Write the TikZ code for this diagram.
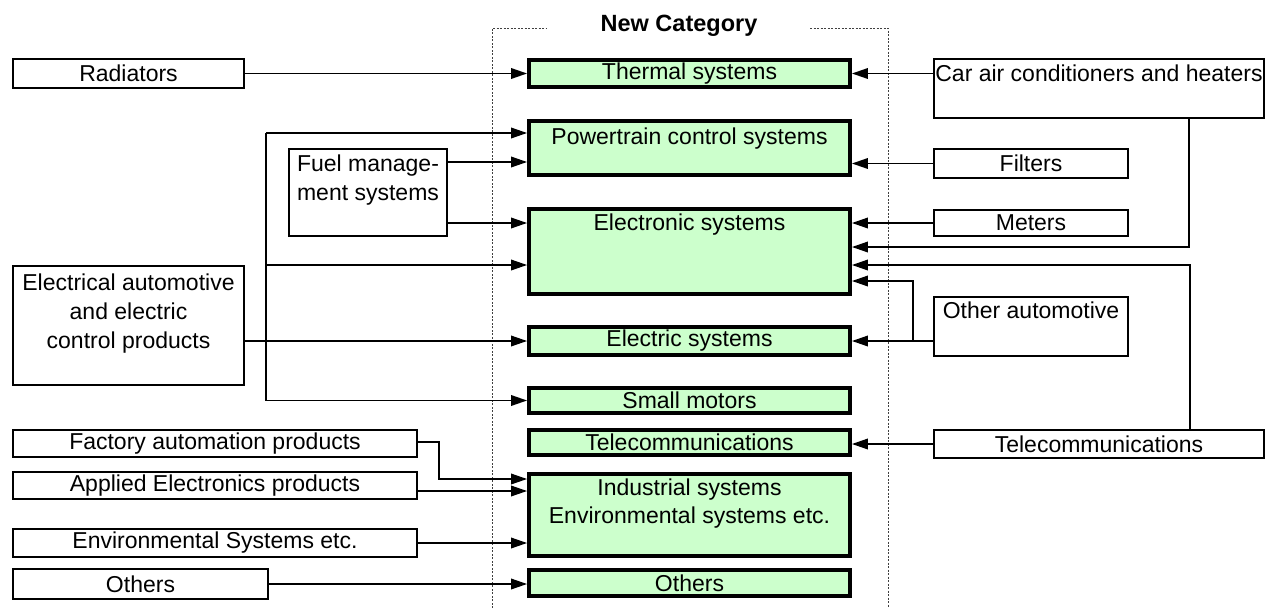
\documentclass[tikz,border=0pt]{standalone}
\usepackage{fontspec}
\setmainfont{Liberation Sans}
\usetikzlibrary{arrows.meta,calc}
\definecolor{gfill}{HTML}{CCFFCC}
\begin{document}
\begin{tikzpicture}[x=1pt,y=-1pt, font=\fontsize{23}{29}\selectfont,
 gbox/.style={draw, line width=3.8pt, fill=gfill, inner sep=0pt},
 wbox/.style={draw, line width=2pt, fill=white, inner sep=0pt},
 txt/.style={inner sep=0pt, align=center},
 conn/.style={line width=1.8pt},
 arr/.style={conn, -{Triangle[length=16pt,width=10.5pt]}},
 frame/.style={line width=0.8pt, black!75, dash pattern=on 2pt off 1.5pt}]
\useasboundingbox (0,0) rectangle (1267,608);
% dotted frame
\draw[frame] (492,608) -- (492,28) -- (547,28);
\draw[frame] (810,28) -- (888,28) -- (888,608);
\node[txt, font=\bfseries\fontsize{23.5}{29}\selectfont] (title) at (679,26) {New Category};
% green category boxes
\node[gbox, minimum width=321pt, minimum height=27pt] (thermal) at (689.5,73.5) {Thermal systems};
\node[gbox, minimum width=321pt, minimum height=54pt] (power) at (689.5,148) {};
\node[txt, anchor=north] (powerT) at (689.5,127.5) {Powertrain control systems};
\node[gbox, minimum width=321pt, minimum height=85pt] (electronic) at (689.5,251.5) {};
\node[txt, anchor=north] (electronicT) at (689.5,213.5) {Electronic systems};
\node[gbox, minimum width=321pt, minimum height=28pt] (electric) at (689.5,341) {Electric systems};
\node[gbox, minimum width=321pt, minimum height=25pt] (small) at (689.5,400.5) {Small motors};
\node[gbox, minimum width=321pt, minimum height=25pt] (telecomG) at (689.5,442.5) {Telecommunications};
\node[gbox, minimum width=321pt, minimum height=82pt] (industrial) at (689.5,515) {};
\node[txt, anchor=north, font=\fontsize{23}{28}\selectfont] (industrialT) at (689.5,478.5) {Industrial systems\\Environmental systems etc.};
\node[gbox, minimum width=321pt, minimum height=26pt] (othersG) at (689.5,583) {Others};
% left boxes
\node[wbox, minimum width=231pt, minimum height=29pt] (radiators) at (128.5,73.5) {Radiators};
\node[wbox, minimum width=158pt, minimum height=87pt] (fuel) at (368,192.5) {};
\node[txt, anchor=north] (fuelT) at (368,154.5) {Fuel manage-\\ment systems};
\node[wbox, minimum width=231pt, minimum height=119pt] (elec) at (128.5,325.5) {};
\node[txt, anchor=north] (elecT) at (128.5,273.5) {Electrical automotive\\and electric\\control products};
\node[wbox, minimum width=404pt, minimum height=27pt] (factory) at (215,443.5) {Factory automation products};
\node[wbox, minimum width=404pt, minimum height=27pt] (applied) at (215,485.5) {Applied Electronics products};
\node[wbox, minimum width=404pt, minimum height=28pt] (env) at (215,543) {Environmental Systems etc.};
\node[wbox, minimum width=255pt, minimum height=30pt] (othersL) at (140.5,584) {Others};
% right boxes
\node[wbox, minimum width=330pt, minimum height=59pt] (carac) at (1099,88.5) {};
\node[txt, anchor=north] (caracT) at (1099,64.5) {Car air conditioners and heaters};
\node[wbox, minimum width=194pt, minimum height=29pt] (filters) at (1031,163.5) {Filters};
\node[wbox, minimum width=194pt, minimum height=26pt] (meters) at (1031,223) {Meters};
\node[wbox, minimum width=194pt, minimum height=59pt] (otherauto) at (1031,326.5) {};
\node[txt, anchor=north] (otherautoT) at (1031,301.5) {Other automotive};
\node[wbox, minimum width=330pt, minimum height=28pt] (telecomR) at (1099,444) {Telecommunications};
% left connectors
\draw[arr] (radiators.east) -- (thermal.west);
\coordinate (b1) at (266,133);
\coordinate (b2) at (266,265);
\coordinate (b4) at (266,400.5);
\draw[conn] (b1) -- (b4);
\draw[arr] (b1) -- (power.west |- b1);
\draw[arr] (b2) -- (electronic.west |- b2);
\draw[arr] (b4) -- (small.west);
\draw[arr] (elec.east |- electric.west) -- (electric.west);
\draw[arr] (fuel.east |- 0,162) -- (power.west |- 0,162);
\draw[arr] (fuel.east |- 0,223) -- (electronic.west |- 0,223);
% right connectors
\draw[arr] (carac.west |- thermal.east) -- (thermal.east);
\coordinate (c1) at (1189,247);
\draw[arr] (carac.south -| c1) -- (c1) -- (electronic.east |- c1);
\draw[arr] (filters.west) -- (power.east |- filters.west);
\draw[arr] (meters.west) -- (electronic.east |- meters.west);
\coordinate (t1) at (1190,265);
\draw[arr] (telecomR.north -| t1) -- (t1) -- (electronic.east |- t1);
\coordinate (o1) at (913,341);
\coordinate (o2) at (913,281);
\draw[arr] (otherauto.west |- o1) -- (electric.east |- o1);
\draw[arr] (o1) -- (o2) -- (electronic.east |- o2);
\draw[arr] (telecomR.west) -- (telecomG.east |- telecomR.west);
% bottom left connectors
\coordinate (f1) at (439,442);
\coordinate (f2) at (439,479);
\draw[arr] (factory.east |- f1) -- (f1) -- (f2) -- (industrial.west |- f2);
\draw[arr] (applied.east |- 0,491) -- (industrial.west |- 0,491);
\draw[arr] (env.east) -- (industrial.west |- env.east);
\draw[arr] (othersL.east) -- (othersG.west |- othersL.east);
\end{tikzpicture}
\end{document}
